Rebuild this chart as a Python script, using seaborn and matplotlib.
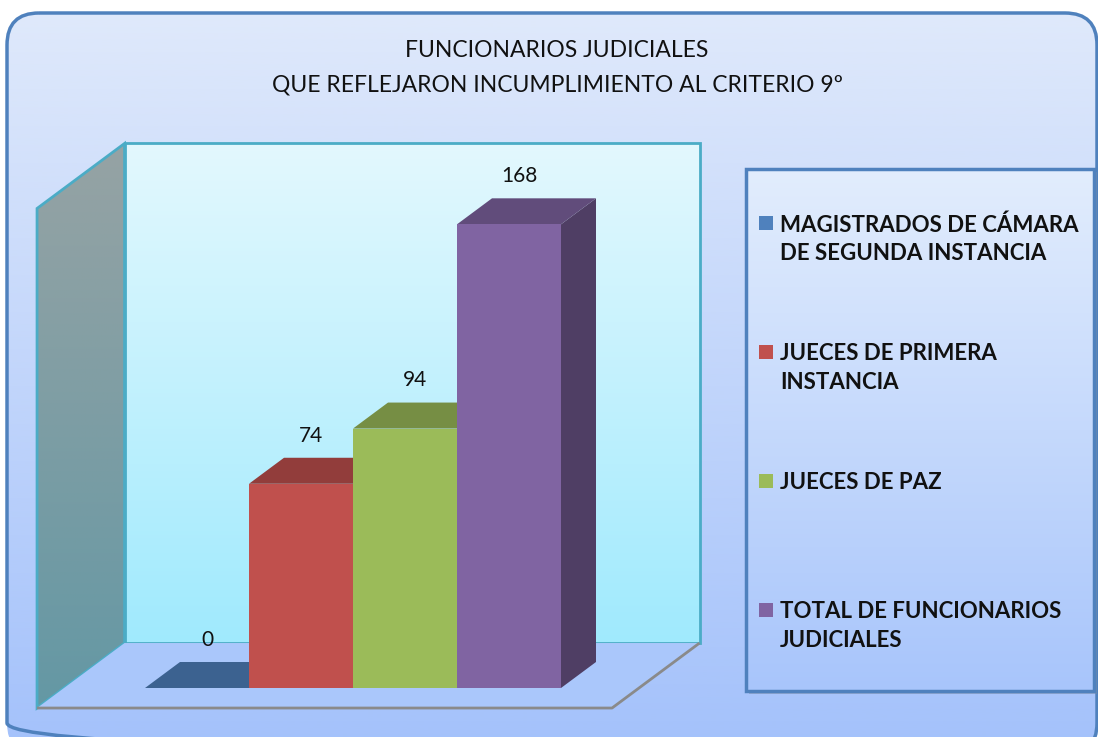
import textwrap
import numpy as np
import pandas as pd
import matplotlib.pyplot as plt
import matplotlib.colors as mcolors
from matplotlib.patches import FancyBboxPatch, Polygon, Rectangle
import seaborn as sns

# datos del grafico
categorias = ['MAGISTRADOS DE CÁMARA DE SEGUNDA INSTANCIA',
              'JUECES DE PRIMERA INSTANCIA',
              'JUECES DE PAZ',
              'TOTAL DE FUNCIONARIOS JUDICIALES']
funcionarios = [0, 74, 94, 168]
colores = ['#4f81bd', '#c0504d', '#9bbb59', '#8064a2']
titulo = 'FUNCIONARIOS JUDICIALES\nQUE REFLEJARON INCUMPLIMIENTO AL CRITERIO 9º'

df = pd.DataFrame({'cat': categorias, 'n': funcionarios})

sns.set_style('white')
plt.rcParams['font.family'] = ['Lato', 'DejaVu Sans']

W, H = 1098, 737
fig = plt.figure(figsize=(W / 100, H / 100), dpi=100)


def gradiente(axis, extent, top, bottom, clip, z):
    cmap = mcolors.LinearSegmentedColormap.from_list('g', [top, bottom])
    img = axis.imshow(np.linspace(0, 1, 256).reshape(-1, 1), cmap=cmap, extent=extent,
                      aspect='auto', origin='upper', zorder=z, interpolation='bilinear')
    img.set_clip_path(clip)


# ---- fondo, titulo y leyenda en coordenadas de pixel ----
bg = fig.add_axes([0, 0, 1, 1])
bg.axis('off')

marco = FancyBboxPatch((7, 13), 1090, 742, boxstyle='round,pad=0,rounding_size=32',
                       facecolor='none', edgecolor='#4f81bd', lw=2.5, zorder=2)
bg.add_patch(marco)
gradiente(bg, (0, W, 760, 13), '#dfe9fb', '#a3c1fb', marco, 1)

bg.text(557, 68, titulo, ha='center', va='center', fontsize=16.5, linespacing=1.8, color='#111111')

# caja de leyenda
bg.add_patch(Rectangle((749, 172), 348, 522, facecolor='#7f8fa6', alpha=0.5, zorder=3, lw=0))
caja = Rectangle((746, 169), 348, 522, facecolor='none', edgecolor='#4f81bd', lw=2.5, zorder=5)
bg.add_patch(caja)
gradiente(bg, (746, 1094, 691, 169), '#e2edfd', '#a8c5fb', caja, 4)

leg_y0, leg_paso = 223, 129
for i, (cat, col) in enumerate(zip(categorias, colores)):
    y = leg_y0 + i * leg_paso
    bg.add_patch(Rectangle((759, y - 7), 14, 14, facecolor=col, lw=0, zorder=6))
    bg.text(780, y - 9, textwrap.fill(cat, 22), ha='left', va='top', fontsize=16,
            fontweight='bold', linespacing=1.45, zorder=6, color='#111111')

bg.set_xlim(0, W)
bg.set_ylim(H, 0)

# ---- grafico de barras ----
ax = fig.add_axes([0, 0, 1, 1], zorder=2)
ax.patch.set_alpha(0)

sns.barplot(data=df, x='cat', y='n', hue='cat', order=categorias, hue_order=categorias,
            palette=colores, saturation=1, width=1, legend=False, ax=ax)
barras = list(ax.patches)

# escala: pixeles por categoria y por unidad
X0PX, PXU, BASE, PXV = 145, 104, 688, 2.76
DX, DY = 35 / PXU, 26 / PXV      # profundidad de cada barra


def proj(x, v, d):
    return (x + d * DX, v + d * DY)


def oscurecer(c, f):
    r, g, b = mcolors.to_rgb(c)
    return (r * f, g * f, b * f)


# paredes y piso
xl, xr = (64 - X0PX) / PXU - 0.5, (639 - X0PX) / PXU - 0.5
d_f, d_b, alto = -0.77, 1.73, 181

pared = Polygon([proj(xl, 0, d_b), proj(xr, 0, d_b), proj(xr, alto, d_b), proj(xl, alto, d_b)],
                closed=True, facecolor='none', edgecolor='#4bacc6', lw=2, zorder=0.6)
ax.add_patch(pared)
gradiente(ax, (xl + d_b * DX, xr + d_b * DX, d_b * DY, alto + d_b * DY),
          '#e3f8fe', '#a0eafd', pared, 0.5)

lateral = Polygon([proj(xl, 0, d_f), proj(xl, 0, d_b), proj(xl, alto, d_b), proj(xl, alto, d_f)],
                  closed=True, facecolor='none', edgecolor='#4bacc6', lw=2, zorder=0.8)
ax.add_patch(lateral)
gradiente(ax, (xl + d_f * DX, xl + d_b * DX, d_f * DY, alto + d_b * DY),
          '#96a3a4', '#6498a4', lateral, 0.7)

piso = Polygon([proj(xl, 0, d_f), proj(xr, 0, d_f), proj(xr, 0, d_b), proj(xl, 0, d_b)],
               closed=True, facecolor='#aac7fb', edgecolor='none', zorder=0.9)
ax.add_patch(piso)
px_, py_ = zip(proj(xl, 0, d_f), proj(xr, 0, d_f), proj(xr, 0, d_b))
ax.plot(px_, py_, color='#8a8a8a', lw=2, zorder=0.95, solid_capstyle='butt')

# caras superior y lateral de cada barra
for i, (p, col, val) in enumerate(zip(barras, colores, funcionarios)):
    x0, w, h = p.get_x(), p.get_width(), p.get_height()
    p.set_zorder(3 + 2 * i)
    p.set_edgecolor('none')
    tapa = [(x0, h), (x0 + w, h), (x0 + w + DX, h + DY), (x0 + DX, h + DY)]
    lado = [(x0 + w, 0), (x0 + w + DX, DY), (x0 + w + DX, h + DY), (x0 + w, h)]
    ax.add_patch(Polygon(lado, closed=True, facecolor=oscurecer(col, 0.62), lw=0, zorder=2 + 2 * i))
    ax.add_patch(Polygon(tapa, closed=True, facecolor=oscurecer(col, 0.76), lw=0, zorder=2 + 2 * i))
    ax.text(x0 + w / 2 + 0.1, h + DY + 8, f'{val}', ha='center', va='center',
            fontsize=15, color='#111111', zorder=20)

ax.set_xlim(-0.5 - X0PX / PXU, -0.5 + (W - X0PX) / PXU)
ax.set_ylim(-(H - BASE) / PXV, BASE / PXV)
ax.axis('off')

fig.savefig('out.png', dpi=100)
